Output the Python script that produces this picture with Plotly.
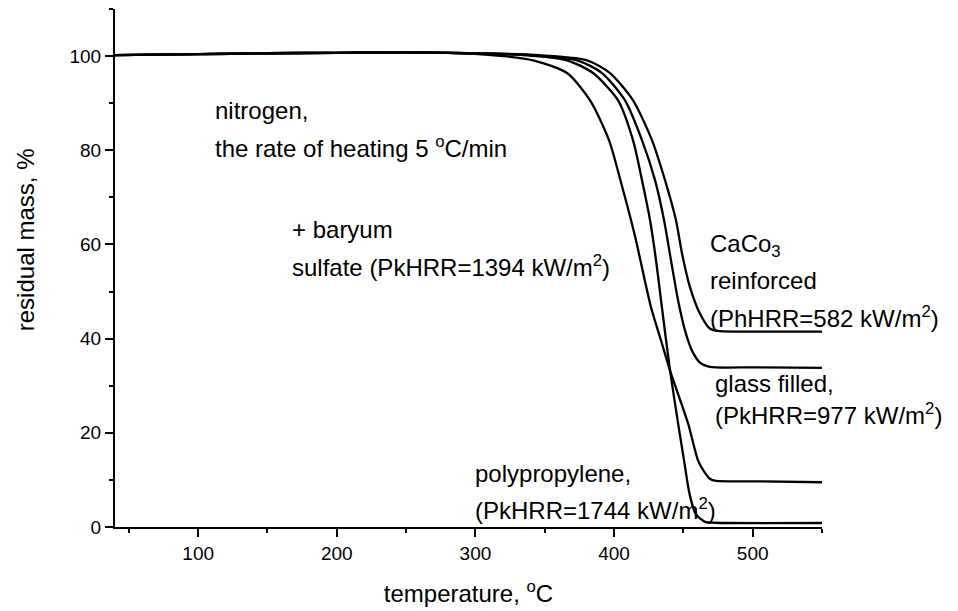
import plotly.graph_objects as go

# ---- data ----
# baryum sulfate (earliest onset, ~9.5 % residue)
t_baso4 = [40, 100, 150, 200, 250, 294, 320, 341.6, 366.1, 382.7, 396.4, 405.8, 412.3, 415.8,
           426.7, 433.9, 440.4, 453.4, 460.6, 465.6, 469.3, 473.6, 500, 550]
m_baso4 = [100.2, 100.4, 100.6, 100.7, 100.8, 100.6, 100.0, 99.1, 96.4, 90.6, 82.1, 72.3, 65.1, 60.9,
           46.6, 39.6, 33.2, 22.0, 14.1, 11.5, 10.2, 9.8, 9.7, 9.5]

# polypropylene (~1 % residue)
t_pp = [40, 100, 150, 200, 250, 294, 330, 366.1, 384.8, 402.9, 413.7, 420.2, 426.0, 430.3, 433.9,
        440.4, 446.2, 450.5, 454.4, 458.8, 465.6, 472.9, 550]
m_pp = [100.2, 100.4, 100.6, 100.7, 100.8, 100.6, 100.3, 99.1, 96.4, 90.6, 82.1, 73.6, 65.1, 56.6, 48.1,
        33.2, 22.0, 14.1, 7.1, 2.8, 1.1, 0.9, 0.85]

# glass filled (~34 % residue)
t_glass = [40, 100, 150, 200, 250, 294, 335, 373.3, 391.3, 407.9, 420.2, 429.6, 436.1, 441.1,
           446.2, 451.2, 456.3, 462.0, 469.3, 500, 550]
m_glass = [100.2, 100.4, 100.6, 100.7, 100.8, 100.6, 100.3, 99.1, 96.4, 90.6, 82.1, 73.6, 65.1, 56.6,
           48.1, 41.7, 37.4, 34.9, 34.0, 33.9, 33.8]

# CaCO3 reinforced (~41.5 % residue)
t_caco3 = [40, 100, 150, 200, 250, 294, 340, 380.5, 397.1, 413.7, 427.4, 436.8, 444.7, 449.0,
           454.8, 462.0, 469.3, 476.5, 500, 550]
m_caco3 = [100.2, 100.4, 100.6, 100.7, 100.8, 100.6, 100.3, 99.1, 96.4, 90.6, 82.1, 73.6, 65.1, 58.1,
           50.9, 45.3, 42.1, 41.6, 41.5, 41.5]

x_ticks = [100, 200, 300, 400, 500]
y_ticks = [0, 20, 40, 60, 80, 100]

FONT = "Liberation Sans, Arial, sans-serif"
ANN_SIZE = 24

fig = go.Figure()
for t, m in [(t_baso4, m_baso4), (t_pp, m_pp), (t_glass, m_glass), (t_caco3, m_caco3)]:
    fig.add_trace(go.Scatter(x=t, y=m, mode="lines",
                             line=dict(color="black", width=2.3, shape="spline", smoothing=0.7),
                             showlegend=False, hoverinfo="skip"))

labels = [
    ("nitrogen,", 110.8, 88.5),
    ("the rate of heating 5 <sup>o</sup>C/min", 110.8, 80.8),
    ("+ baryum", 166.3, 63.2),
    ("sulfate (PkHRR=1394 kW/m<sup>2</sup>)", 166.3, 55.5),
    ("CaCo<sub>3</sub>", 467.8, 59.8),
    ("reinforced", 467.8, 52.4),
    ("(PhHRR=582 kW/m<sup>2</sup>)", 467.8, 44.5),
    ("glass filled,", 471.4, 30.5),
    ("(PkHRR=977 kW/m<sup>2</sup>)", 471.4, 24.1),
    ("polypropylene,", 298.3, 11.3),
    ("(PkHRR=1744 kW/m<sup>2</sup>)", 298.3, 3.9),
]
for txt, x, y in labels:
    fig.add_annotation(x=x, y=y, xref="x", yref="y", text=txt, showarrow=False,
                       xanchor="left", yanchor="middle",
                       font=dict(family=FONT, size=ANN_SIZE, color="black"))

fig.add_annotation(text="residual mass, %", xref="paper", yref="y", x=0, y=60.9,
                   xshift=-90, textangle=-90, showarrow=False,
                   xanchor="center", yanchor="middle",
                   font=dict(family=FONT, size=ANN_SIZE, color="black"))

axis_common = dict(showline=True, linecolor="black", linewidth=2, showgrid=False, zeroline=False,
                   ticks="outside", ticklen=8, tickwidth=2, tickcolor="black",
                   tickfont=dict(family=FONT, size=19, color="black"))

fig.update_xaxes(range=[40, 550], tickvals=x_ticks,
                 minor=dict(dtick=50, tick0=0, ticks="outside", ticklen=4, tickwidth=2, tickcolor="black"),
                 title=dict(text="temperature, <sup>o</sup>C", standoff=22,
                            font=dict(family=FONT, size=ANN_SIZE, color="black")),
                 **axis_common)
fig.update_yaxes(range=[0, 110], tickvals=y_ticks,
                 minor=dict(dtick=10, tick0=0, ticks="outside", ticklen=4, tickwidth=2, tickcolor="black"),
                 **axis_common)

# page body has an 8px default margin, so the figure is a bit smaller and margins shifted
fig.update_layout(width=950, height=603, margin=dict(l=107, r=136, t=1, b=84),
                  paper_bgcolor="white", plot_bgcolor="white",
                  font=dict(family=FONT, color="black"))

fig.write_html("out.html")
